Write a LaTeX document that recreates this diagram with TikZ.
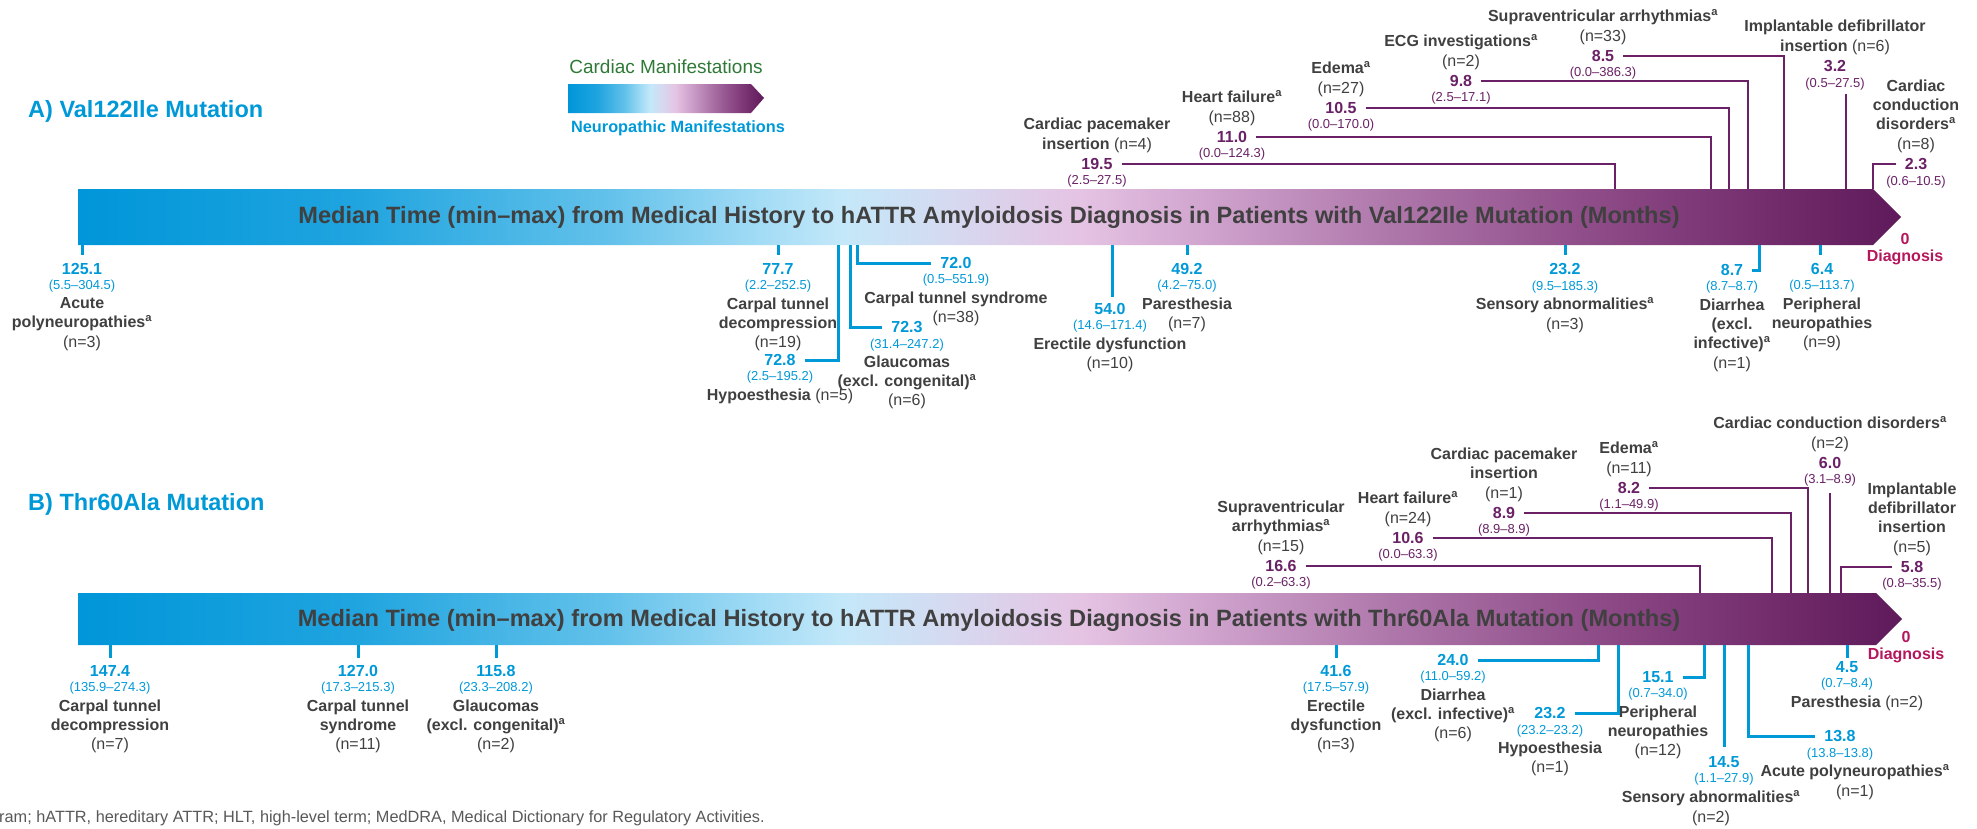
\documentclass[tikz,border=0pt]{standalone}
\usepackage{fontspec}
\setmainfont{Liberation Sans}
\usetikzlibrary{positioning}

\definecolor{nblue}{HTML}{0099D8}
\definecolor{cpur}{HTML}{6A2166}
\definecolor{txtgray}{HTML}{404040}
\definecolor{diagred}{HTML}{B5175C}
\definecolor{leggreen}{HTML}{2F7A36}
\definecolor{footgray}{HTML}{595959}
% colour stops of the timeline bar
\definecolor{g0}{HTML}{0096D9}
\definecolor{g1}{HTML}{1FA4DF}
\definecolor{g2}{HTML}{62C1EA}
\definecolor{g3}{HTML}{A3DCF5}
\definecolor{g4}{HTML}{C4E8F9}
\definecolor{g5}{HTML}{D6D9F0}
\definecolor{g6}{HTML}{E5C3E3}
\definecolor{g7}{HTML}{CFA3CD}
\definecolor{g8}{HTML}{AE77AA}
\definecolor{g9}{HTML}{8E4C88}
\definecolor{g10}{HTML}{722C6C}
\definecolor{g11}{HTML}{5E1A5A}
\pgfdeclarehorizontalshading{timeline}{100bp}{color(0bp)=(g0); color(25bp)=(g0); color(32.5bp)=(g1); color(39.5bp)=(g2); color(43.75bp)=(g3); color(46bp)=(g4); color(49bp)=(g5); color(52.5bp)=(g6); color(56bp)=(g7); color(61bp)=(g8); color(66.5bp)=(g9); color(71.5bp)=(g10); color(75bp)=(g11); color(100bp)=(g11)}

\begin{document}
\begin{tikzpicture}[x=1pt, y=-1pt,
        val/.style={font=\bfseries\fontsize{16}{19}\selectfont, inner xsep=9pt, inner ysep=0pt},
        cval/.style={val, text=cpur},
        nval/.style={val, text=nblue},
        rng/.style={font=\fontsize{13}{15}\selectfont, inner sep=0pt},
        crng/.style={rng, text=cpur},
        nrng/.style={rng, text=nblue},
        ttl/.style={align=center, font=\bfseries\fontsize{16}{19.3}\selectfont, text=txtgray, inner sep=0pt},
        cline/.style={draw=cpur, line width=2.7pt},
        nline/.style={draw=nblue, line width=3pt},
        tick/.style={nline, shorten >=8pt},
        bartxt/.style={font=\bfseries\fontsize{23.6}{26}\selectfont, text=txtgray, inner sep=0pt},
        diag/.style={align=center, font=\bfseries\fontsize{16}{17}\selectfont, text=diagred, inner sep=0pt},
        panel/.style={font=\bfseries\fontsize{23.5}{26}\selectfont, text=nblue, anchor=west, inner sep=0pt}
    ]

    \fill[white] (0,0) rectangle (1977,828);
    \useasboundingbox (0,0) rectangle (1977,828);

    % Legend
    \shade[shading=timeline] (568,84) -- (751,84) -- (764,98) -- (751,113) -- (568,113) -- cycle;
    \node[font=\fontsize{19}{22}\selectfont, text=leggreen, inner sep=0pt] (legc) at (666,67) {Cardiac Manifestations};
    \node[font=\bfseries\fontsize{16.3}{19}\selectfont, text=nblue, inner sep=0pt] (legn) at (678,128) {Neuropathic Manifestations};

    % ---------------- Panel A ----------------
    \node[panel] (titA) at (28,111) {A) Val122Ile Mutation};
    \shade[shading=timeline] (78,189) -- (1873,189) -- (1901,217) -- (1873,245) -- (78,245) -- cycle;
    \node[bartxt] (barA) at (989,217) {Median Time (min–max) from Medical History to hATTR Amyloidosis Diagnosis in Patients with Val122Ile Mutation (Months)};
    \node[diag] (dxA) at (1905,249) {0\\Diagnosis};

    % cardiac, above the bar
    \coordinate (xpmA) at (1615,189);
    \coordinate (xhfA) at (1711,189);
    \coordinate (xedA) at (1729,189);
    \coordinate (xecgA) at (1748,189);
    \coordinate (xsvA) at (1784,189);
    \coordinate (xicdA) at (1846,189);
    \coordinate (xccA) at (1873,189);

    \node[cval] (pmA) at (1097,164) {19.5};
    \node[crng, below=5.5pt of pmA] (pmAr) {(2.5–27.5)};
    \node[ttl, above=5.5pt of pmA] (pmAt) {Cardiac pacemaker\\insertion \textmd{(n=4)}};

    \node[cval] (hfA) at (1232,137) {11.0};
    \node[crng, below=5.5pt of hfA] (hfAr) {(0.0–124.3)};
    \node[ttl, above=5.5pt of hfA] (hfAt) {Heart failure\textsuperscript{a}\\\textmd{(n=88)}};

    \node[cval] (edA) at (1341,108) {10.5};
    \node[crng, below=5.5pt of edA] (edAr) {(0.0–170.0)};
    \node[ttl, above=5.5pt of edA] (edAt) {Edema\textsuperscript{a}\\\textmd{(n=27)}};

    \node[cval] (ecgA) at (1461,81) {9.8};
    \node[crng, below=5.5pt of ecgA] (ecgAr) {(2.5–17.1)};
    \node[ttl, above=5.5pt of ecgA] (ecgAt) {ECG investigations\textsuperscript{a}\\\textmd{(n=2)}};

    \node[cval] (svA) at (1603,56) {8.5};
    \node[crng, below=5.5pt of svA] (svAr) {(0.0–386.3)};
    \node[ttl, above=5.5pt of svA] (svAt) {Supraventricular arrhythmias\textsuperscript{a}\\\textmd{(n=33)}};

    \node[cval] (icdA) at (1835,66) {3.2};
    \node[crng, below=5.5pt of icdA] (icdAr) {(0.5–27.5)};
    \node[ttl, above=5.5pt of icdA] (icdAt) {Implantable defibrillator\\insertion \textmd{(n=6)}};

    \node[cval] (ccA) at (1916,164) {2.3};
    \node[crng, below=5.5pt of ccA] (ccAr) {(0.6–10.5)};
    \node[ttl, above=5.5pt of ccA] (ccAt) {Cardiac\\conduction\\disorders\textsuperscript{a}\\\textmd{(n=8)}};

    \draw[cline] (pmA.east) -| (xpmA);
    \draw[cline] (hfA.east) -| (xhfA);
    \draw[cline] (edA.east) -| (xedA);
    \draw[cline] (ecgA.east) -| (xecgA);
    \draw[cline] (svA.east) -| (xsvA);
    \draw[cline, shorten <=4pt] (icdAr.south -| xicdA) -- (xicdA);
    \draw[cline] (ccA.west) -| (xccA);

    % neuropathic, below the bar
    \coordinate (xapA) at (82,245);
    \coordinate (xctdA) at (778,245);
    \coordinate (xhypA) at (838,245);
    \coordinate (xglA) at (850,245);
    \coordinate (xctsA) at (857,245);
    \coordinate (xedfA) at (1112,245);
    \coordinate (xparA) at (1187,245);
    \coordinate (xsensA) at (1565,245);
    \coordinate (xdiaA) at (1759,245);
    \coordinate (xpnA) at (1820,245);

    \node[nval] (apA) at (82,269) {125.1};
    \node[nrng, below=5.5pt of apA] (apAr) {(5.5–304.5)};
    \node[ttl, below=4.5pt of apAr] (apAt) {Acute\\polyneuropathies\textsuperscript{a}\\\textmd{(n=3)}};

    \node[nval] (ctdA) at (778,269) {77.7};
    \node[nrng, below=5.5pt of ctdA] (ctdAr) {(2.2–252.5)};
    \node[ttl, below=4.5pt of ctdAr] (ctdAt) {Carpal tunnel\\decompression\\\textmd{(n=19)}};

    \node[nval] (hypA) at (780,360) {72.8};
    \node[nrng, below=5.5pt of hypA] (hypAr) {(2.5–195.2)};
    \node[ttl, below=4.5pt of hypAr] (hypAt) {Hypoesthesia \textmd{(n=5)}};

    \node[nval] (glA) at (907,327) {72.3};
    \node[nrng, below=5.5pt of glA] (glAr) {(31.4–247.2)};
    \node[ttl, below=4.5pt of glAr] (glAt) {Glaucomas\\(excl. congenital)\textsuperscript{a}\\\textmd{(n=6)}};

    \node[nval] (ctsA) at (956,263) {72.0};
    \node[nrng, below=5.5pt of ctsA] (ctsAr) {(0.5–551.9)};
    \node[ttl, below=4.5pt of ctsAr] (ctsAt) {Carpal tunnel syndrome\\\textmd{(n=38)}};

    \node[nval] (edfA) at (1110,309) {54.0};
    \node[nrng, below=5.5pt of edfA] (edfAr) {(14.6–171.4)};
    \node[ttl, below=4.5pt of edfAr] (edfAt) {Erectile dysfunction\\\textmd{(n=10)}};

    \node[nval] (parA) at (1187,269) {49.2};
    \node[nrng, below=5.5pt of parA] (parAr) {(4.2–75.0)};
    \node[ttl, below=4.5pt of parAr] (parAt) {Paresthesia\\\textmd{(n=7)}};

    \node[nval] (sensA) at (1565,269) {23.2};
    \node[nrng, below=5.5pt of sensA] (sensAr) {(9.5–185.3)};
    \node[ttl, below=4.5pt of sensAr] (sensAt) {Sensory abnormalities\textsuperscript{a}\\\textmd{(n=3)}};

    \node[nval] (diaA) at (1732,270) {8.7};
    \node[nrng, below=5.5pt of diaA] (diaAr) {(8.7–8.7)};
    \node[ttl, below=4.5pt of diaAr] (diaAt) {Diarrhea\\(excl.\\infective)\textsuperscript{a}\\\textmd{(n=1)}};

    \node[nval] (pnA) at (1822,269) {6.4};
    \node[nrng, below=5.5pt of pnA] (pnAr) {(0.5–113.7)};
    \node[ttl, below=4.5pt of pnAr] (pnAt) {Peripheral\\neuropathies\\\textmd{(n=9)}};

    \draw[tick] (xapA) -- (apA.north);
    \draw[tick] (xctdA) -- (ctdA.north);
    \draw[nline] (xhypA) |- (hypA.east);
    \draw[nline] (xglA) |- (glA.west);
    \draw[nline] (xctsA) |- (ctsA.west);
    \draw[tick, shorten >=6pt] (xedfA) -- (xedfA |- edfA.north);
    \draw[tick] (xparA) -- (parA.north);
    \draw[tick] (xsensA) -- (sensA.north);
    \draw[nline] (xdiaA) |- (diaA.east);
    \draw[tick] (xpnA) -- (xpnA |- pnA.north);

    % ---------------- Panel B ----------------
    \node[panel] (titB) at (28,504) {B) Thr60Ala Mutation};
    \shade[shading=timeline] (78,593) -- (1876,593) -- (1902,619) -- (1876,645) -- (78,645) -- cycle;
    \node[bartxt] (barB) at (989,620) {Median Time (min–max) from Medical History to hATTR Amyloidosis Diagnosis in Patients with Thr60Ala Mutation (Months)};
    \node[diag] (dxB) at (1906,647) {0\\Diagnosis};

    % cardiac, above the bar
    \coordinate (xsvB) at (1700,593);
    \coordinate (xhfB) at (1772,593);
    \coordinate (xpmB) at (1791,593);
    \coordinate (xedB) at (1808,593);
    \coordinate (xccB) at (1830,593);
    \coordinate (xicdB) at (1841,593);

    \node[cval] (svB) at (1281,566) {16.6};
    \node[crng, below=5.5pt of svB] (svBr) {(0.2–63.3)};
    \node[ttl, above=5.5pt of svB] (svBt) {Supraventricular\\arrhythmias\textsuperscript{a}\\\textmd{(n=15)}};

    \node[cval] (hfB) at (1408,538) {10.6};
    \node[crng, below=5.5pt of hfB] (hfBr) {(0.0–63.3)};
    \node[ttl, above=5.5pt of hfB] (hfBt) {Heart failure\textsuperscript{a}\\\textmd{(n=24)}};

    \node[cval] (pmB) at (1504,513) {8.9};
    \node[crng, below=5.5pt of pmB] (pmBr) {(8.9–8.9)};
    \node[ttl, above=5.5pt of pmB] (pmBt) {Cardiac pacemaker\\insertion\\\textmd{(n=1)}};

    \node[cval] (edB) at (1629,488) {8.2};
    \node[crng, below=5.5pt of edB] (edBr) {(1.1–49.9)};
    \node[ttl, above=5.5pt of edB] (edBt) {Edema\textsuperscript{a}\\\textmd{(n=11)}};

    \node[cval] (ccB) at (1830,463) {6.0};
    \node[crng, below=5.5pt of ccB] (ccBr) {(3.1–8.9)};
    \node[ttl, above=5.5pt of ccB] (ccBt) {Cardiac conduction disorders\textsuperscript{a}\\\textmd{(n=2)}};

    \node[cval] (icdB) at (1912,567) {5.8};
    \node[crng, below=5.5pt of icdB] (icdBr) {(0.8–35.5)};
    \node[ttl, above=5.5pt of icdB] (icdBt) {Implantable\\defibrillator\\insertion\\\textmd{(n=5)}};

    \draw[cline] (svB.east) -| (xsvB);
    \draw[cline] (hfB.east) -| (xhfB);
    \draw[cline] (pmB.east) -| (xpmB);
    \draw[cline] (edB.east) -| (xedB);
    \draw[cline, shorten <=6pt] (ccBr.south -| xccB) -- (xccB);
    \draw[cline] (icdB.west) -| (xicdB);

    % neuropathic, below the bar
    \coordinate (xctdB) at (110,645);
    \coordinate (xctsB) at (358,645);
    \coordinate (xglB) at (496,645);
    \coordinate (xedfB) at (1336,645);
    \coordinate (xdiaB) at (1598,645);
    \coordinate (xhypB) at (1618,645);
    \coordinate (xpnB) at (1704,645);
    \coordinate (xsensB) at (1724,645);
    \coordinate (xapB) at (1748,645);
    \coordinate (xparB) at (1847,645);

    \node[nval] (ctdB) at (110,671) {147.4};
    \node[nrng, below=5.5pt of ctdB] (ctdBr) {(135.9–274.3)};
    \node[ttl, below=4.5pt of ctdBr] (ctdBt) {Carpal tunnel\\decompression\\\textmd{(n=7)}};

    \node[nval] (ctsB) at (358,671) {127.0};
    \node[nrng, below=5.5pt of ctsB] (ctsBr) {(17.3–215.3)};
    \node[ttl, below=4.5pt of ctsBr] (ctsBt) {Carpal tunnel\\syndrome\\\textmd{(n=11)}};

    \node[nval] (glB) at (496,671) {115.8};
    \node[nrng, below=5.5pt of glB] (glBr) {(23.3–208.2)};
    \node[ttl, below=4.5pt of glBr] (glBt) {Glaucomas\\(excl. congenital)\textsuperscript{a}\\\textmd{(n=2)}};

    \node[nval] (edfB) at (1336,671) {41.6};
    \node[nrng, below=5.5pt of edfB] (edfBr) {(17.5–57.9)};
    \node[ttl, below=4.5pt of edfBr] (edfBt) {Erectile\\dysfunction\\\textmd{(n=3)}};

    \node[nval] (diaB) at (1453,660) {24.0};
    \node[nrng, below=5.5pt of diaB] (diaBr) {(11.0–59.2)};
    \node[ttl, below=4.5pt of diaBr] (diaBt) {Diarrhea\\(excl. infective)\textsuperscript{a}\\\textmd{(n=6)}};

    \node[nval] (hypB) at (1550,713) {23.2};
    \node[nrng, below=5.5pt of hypB] (hypBr) {(23.2–23.2)};
    \node[ttl, below=4.5pt of hypBr] (hypBt) {Hypoesthesia\\\textmd{(n=1)}};

    \node[nval] (pnB) at (1658,677) {15.1};
    \node[nrng, below=5.5pt of pnB] (pnBr) {(0.7–34.0)};
    \node[ttl, below=4.5pt of pnBr] (pnBt) {Peripheral\\neuropathies\\\textmd{(n=12)}};

    \node[nval] (sensB) at (1724,762) {14.5};
    \node[nrng, below=5.5pt of sensB] (sensBr) {(1.1–27.9)};
    \node[ttl, below=4.5pt of sensBr, xshift=-13pt] (sensBt) {Sensory abnormalities\textsuperscript{a}\\\textmd{(n=2)}};

    \node[nval] (apB) at (1840,736) {13.8};
    \node[nrng, below=5.5pt of apB] (apBr) {(13.8–13.8)};
    \node[ttl, below=4.5pt of apBr, xshift=15pt] (apBt) {Acute polyneuropathies\textsuperscript{a}\\\textmd{(n=1)}};

    \node[nval] (parB) at (1847,667) {4.5};
    \node[nrng, below=5.5pt of parB] (parBr) {(0.7–8.4)};
    \node[ttl, below=4.5pt of parBr, xshift=10pt] (parBt) {Paresthesia \textmd{(n=2)}};

    \draw[tick, shorten >=7pt] (xctdB) -- (ctdB.north);
    \draw[tick, shorten >=7pt] (xctsB) -- (ctsB.north);
    \draw[tick, shorten >=7pt] (xglB) -- (glB.north);
    \draw[tick, shorten >=7pt] (xedfB) -- (edfB.north);
    \draw[nline] (xdiaB) |- (diaB.east);
    \draw[nline] (xhypB) |- (hypB.east);
    \draw[nline] (xpnB) |- (pnB.east);
    \draw[tick, shorten >=9pt] (xsensB) -- (sensB.north);
    \draw[nline] (xapB) |- (apB.west);
    \draw[tick, shorten >=3pt] (xparB) -- (parB.north);

    % Footnote
    \node[font=\fontsize{16.3}{19}\selectfont, text=footgray, anchor=west, inner sep=0pt] (fnote) at (-1,818) {ram; hATTR, hereditary ATTR; HLT, high-level term; MedDRA, Medical Dictionary for Regulatory Activities.};

\end{tikzpicture}
\end{document}
